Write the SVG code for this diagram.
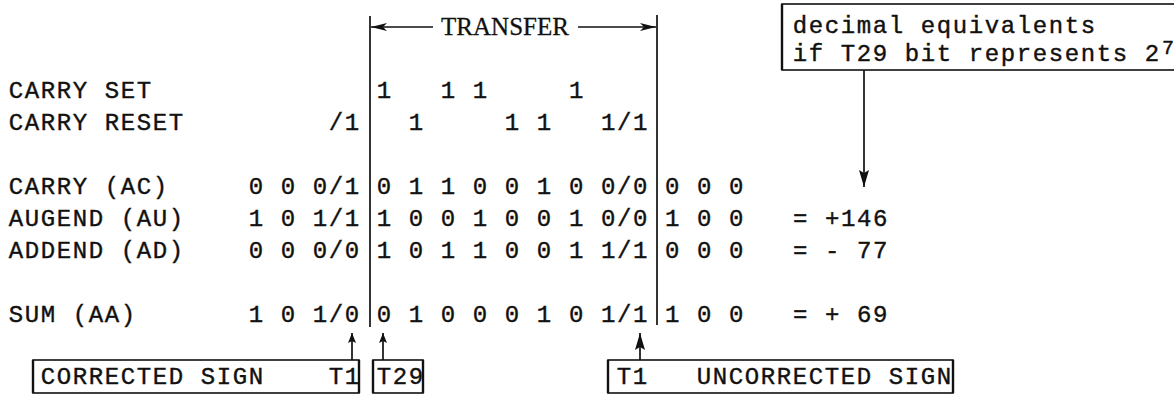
<svg xmlns="http://www.w3.org/2000/svg" width="1174" height="396" viewBox="0 0 1174 396">
<style>
.tw { font-family: "Liberation Mono", "DejaVu Sans Mono", monospace; font-size: 24px; letter-spacing: 1.6px; fill: #111; stroke: #111; stroke-width: 0.4; white-space: pre; }
.sup { font-family: "Liberation Mono", "DejaVu Sans Mono", monospace; font-size: 20px; fill: #111; stroke: #111; stroke-width: 0.4; }
.serif { font-family: "Liberation Serif", "DejaVu Serif", serif; font-size: 25px; fill: #111; stroke: #111; stroke-width: 0.3; }
.ln { stroke: #111; stroke-width: 1.7; fill: none; }
.box { stroke: #111; stroke-width: 1.6; fill: none; }
.side { stroke: #111; stroke-width: 2.4; fill: none; }
</style>
<defs>
<marker id="ah" viewBox="0 0 16 8" refX="16" refY="4" markerWidth="16" markerHeight="8" markerUnits="userSpaceOnUse" orient="auto-start-reverse"><path d="M0,0 L16,4 L0,8 L4,4 Z" fill="#111"/></marker>
<marker id="ahs" viewBox="0 0 10 8" refX="10" refY="4" markerWidth="10" markerHeight="8" markerUnits="userSpaceOnUse" orient="auto"><path d="M0,0 L10,4 L0,8 L2,4 Z" fill="#111"/></marker>
<marker id="ahd" viewBox="0 0 17 10" refX="17" refY="5" markerWidth="17" markerHeight="10" markerUnits="userSpaceOnUse" orient="auto"><path d="M0,0 L17,5 L0,10 L3,5 Z" fill="#111"/></marker>
</defs>

<g id="connectors">
  <line class="ln" x1="370" y1="16" x2="370" y2="327"/>
  <line class="ln" x1="657" y1="15" x2="657" y2="325"/>
  <line class="ln" x1="433" y1="27" x2="371" y2="27" marker-end="url(#ah)"/>
  <line class="ln" x1="578" y1="27" x2="656" y2="27" marker-end="url(#ah)"/>
  <line class="ln" x1="864" y1="70" x2="864" y2="187" marker-end="url(#ahd)"/>
  <line class="ln" x1="352" y1="360" x2="352" y2="333" marker-end="url(#ahs)"/>
  <line class="ln" x1="383" y1="360" x2="383" y2="333" marker-end="url(#ahs)"/>
  <line class="ln" x1="640" y1="360" x2="640" y2="333" stroke-width="2.2" marker-end="url(#ahd)"/>
</g>

<g id="transfer">
  <text class="serif" x="505" y="35" text-anchor="middle">TRANSFER</text>
</g>

<g id="row-carry-set">
  <text class="tw" x="8.8" y="98" xml:space="preserve">CARRY SET              1   1 1     1</text>
</g>
<g id="row-carry-reset">
  <text class="tw" x="8.8" y="130" xml:space="preserve">CARRY RESET         /1   1     1 1   1/1</text>
</g>
<g id="row-carry">
  <text class="tw" x="8.8" y="194" xml:space="preserve">CARRY (AC)     0 0 0/1 0 1 1 0 0 1 0 0/0 0 0 0</text>
</g>
<g id="row-augend">
  <text class="tw" x="8.8" y="226" xml:space="preserve">AUGEND (AU)    1 0 1/1 1 0 0 1 0 0 1 0/0 1 0 0   = +146</text>
</g>
<g id="row-addend">
  <text class="tw" x="8.8" y="258" xml:space="preserve">ADDEND (AD)    0 0 0/0 1 0 1 1 0 0 1 1/1 0 0 0   = - 77</text>
</g>
<g id="row-sum">
  <text class="tw" x="8.8" y="322" xml:space="preserve">SUM (AA)       1 0 1/0 0 1 0 0 0 1 0 1/1 1 0 0   = + 69</text>
</g>

<g id="box-decimal">
  <rect class="box" x="782" y="4" width="400" height="66"/>
  <line class="side" x1="782" y1="4" x2="782" y2="70"/>
  <text class="tw" x="792.8" y="33" xml:space="preserve">decimal equivalents</text>
  <text class="tw" x="792.8" y="61" xml:space="preserve">if T29 bit represents 2</text>
  <text class="sup" x="1168" y="54" text-anchor="middle">7</text>
</g>

<g id="box-corrected">
  <rect class="box" x="33" y="360" width="326" height="33"/>
  <line class="side" x1="33" y1="360" x2="33" y2="393"/>
  <line class="side" x1="359" y1="360" x2="359" y2="393"/>
  <text class="tw" x="40.8" y="384" xml:space="preserve">CORRECTED SIGN    T1</text>
</g>
<g id="box-t29">
  <rect class="box" x="373" y="360" width="50" height="33"/>
  <line class="side" x1="373" y1="360" x2="373" y2="393"/>
  <line class="side" x1="423" y1="360" x2="423" y2="393"/>
  <text class="tw" x="376.8" y="384" xml:space="preserve">T29</text>
</g>
<g id="box-uncorrected">
  <rect class="box" x="608" y="360" width="345" height="33"/>
  <line class="side" x1="608" y1="360" x2="608" y2="393"/>
  <line class="side" x1="953" y1="360" x2="953" y2="393"/>
  <text class="tw" x="616.8" y="384" xml:space="preserve">T1   UNCORRECTED SIGN</text>
</g>
</svg>
